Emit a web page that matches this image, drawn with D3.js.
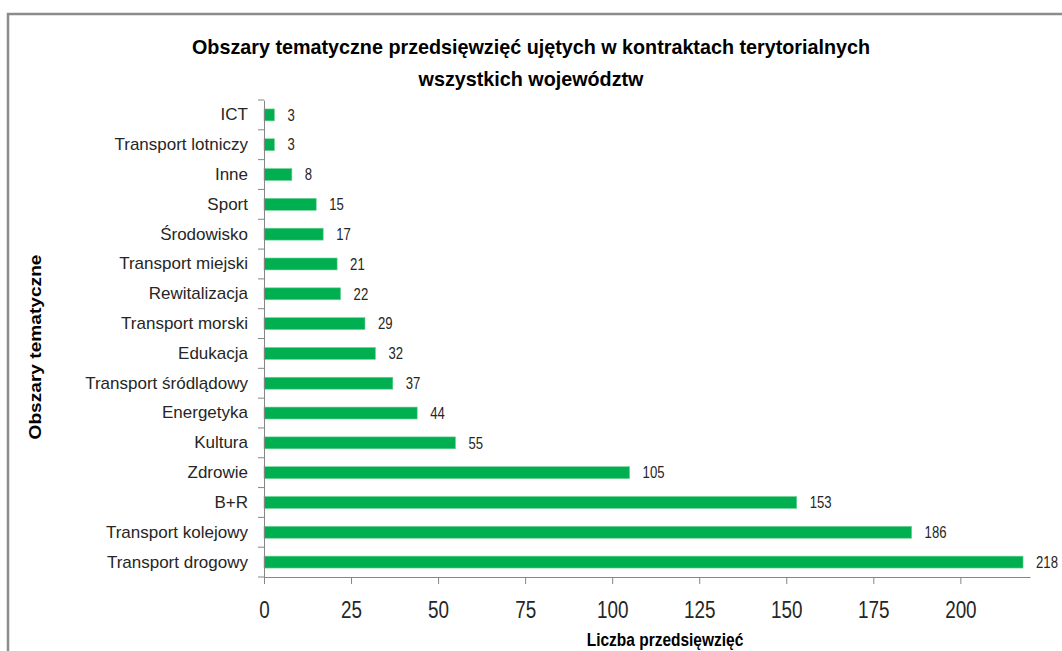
<!DOCTYPE html>
<html>
<head>
<meta charset="utf-8">
<script src="https://cdn.jsdelivr.net/npm/d3@7"></script>
<style>
  body { margin: 0; background: #fff; }
  svg { display: block; }
</style>
</head>
<body>
<script>
// dane z wykresu (od gory do dolu)
var categories = ["ICT", "Transport lotniczy", "Inne", "Sport", "Środowisko", "Transport miejski",
    "Rewitalizacja", "Transport morski", "Edukacja", "Transport śródlądowy", "Energetyka",
    "Kultura", "Zdrowie", "B+R", "Transport kolejowy", "Transport drogowy"];
var values = [3, 3, 8, 15, 17, 21, 22, 29, 32, 37, 44, 55, 105, 153, 186, 218];
var xTicks = [0, 25, 50, 75, 100, 125, 150, 175, 200];
var titleLines = ["Obszary tematyczne przedsięwzięć ujętych w kontraktach terytorialnych", "wszystkich województw"];
var xTitle = "Liczba przedsięwzięć";
var yTitle = "Obszary tematyczne";

var width = 1062, height = 651;
var sans = "'Liberation Sans', Arial, sans-serif";

var svg = d3.select("body").append("svg")
    .attr("width", width)
    .attr("height", height);

// zweza tekst (brak fontu "narrow" - sciskamy Liberation Sans)
function narrowText(sel, factor) {
    sel.each(function () {
        var len = this.getComputedTextLength();
        d3.select(this)
            .attr("textLength", len * factor)
            .attr("lengthAdjust", "spacingAndGlyphs");
    });
}

// ramka wykresu
svg.append("path")
    .attr("d", "M8,651 L8,14 L1062,14")
    .attr("fill", "none")
    .attr("stroke", "#8c8c8c")
    .attr("stroke-width", 2.5);

var data = categories.map(function (c, i) {
    return {name: c, value: values[i]};
});

var x = d3.scaleLinear()
    .domain([0, 220])
    .range([264, 1030]);

var y = d3.scaleBand()
    .domain(categories)
    .range([100, 577])
    .paddingInner(0.6)
    .paddingOuter(0.3);

// tytul
svg.append("g").selectAll("text")
    .data(titleLines)
    .enter()
    .append("text")
    .attr("x", 531)
    .attr("y", function (d, i) { return 54 + i * 32; })
    .attr("text-anchor", "middle")
    .style("font-family", sans)
    .style("font-weight", "bold")
    .style("font-size", "21px")
    .style("fill", "#000")
    .text(function (d) { return d; })
    .call(narrowText, 0.94);

// slupki
svg.append("g").selectAll("rect")
    .data(data)
    .enter()
    .append("rect")
    .attr("x", x(0))
    .attr("y", function (d) { return y(d.name); })
    .attr("width", function (d) { return x(d.value) - x(0); })
    .attr("height", y.bandwidth())
    .attr("fill", "#00b050")
    .attr("stroke", "#6fd195")
    .attr("stroke-width", 0.6);

// etykiety wartosci
svg.append("g").selectAll("text")
    .data(data)
    .enter()
    .append("text")
    .attr("x", function (d) { return x(d.value) + 13; })
    .attr("y", function (d) { return y(d.name) + y.bandwidth() / 2; })
    .attr("dy", "0.36em")
    .style("font-family", sans)
    .style("font-size", "16px")
    .style("fill", "#262626")
    .text(function (d) { return d.value; })
    .call(narrowText, 0.82);

// os Y - etykiety kategorii
var yAxisGroup = svg.append("g")
    .attr("transform", "translate(" + x(0) + ",0)")
    .call(d3.axisLeft(y).tickSize(0).tickPadding(16));
yAxisGroup.select(".domain").attr("stroke", "#868686");
yAxisGroup.selectAll("text")
    .style("font-family", sans)
    .style("font-size", "17px")
    .style("fill", "#262626");

// kreski miedzy kategoriami
var boundaries = d3.range(categories.length + 1).map(function (i) {
    return y.range()[0] + i * y.step();
});
svg.append("g").selectAll("line")
    .data(boundaries)
    .enter()
    .append("line")
    .attr("x1", x(0) - 6)
    .attr("x2", x(0))
    .attr("y1", function (d) { return d; })
    .attr("y2", function (d) { return d; })
    .attr("stroke", "#868686");

// os X
var xAxisGroup = svg.append("g")
    .attr("transform", "translate(0," + y.range()[1] + ")")
    .call(d3.axisBottom(x).tickValues(xTicks).tickSize(7).tickSizeOuter(0).tickPadding(18));
xAxisGroup.select(".domain").attr("stroke", "#868686");
xAxisGroup.selectAll(".tick line").attr("stroke", "#868686");
xAxisGroup.selectAll("text")
    .style("font-family", sans)
    .style("font-size", "23px")
    .style("fill", "#262626")
    .call(narrowText, 0.82);

// tytuly osi
svg.append("text")
    .attr("x", 665)
    .attr("y", 646)
    .attr("text-anchor", "middle")
    .style("font-family", sans)
    .style("font-weight", "bold")
    .style("font-size", "18px")
    .style("fill", "#000")
    .text(xTitle)
    .call(narrowText, 0.86);

svg.append("text")
    .attr("transform", "translate(41,347) rotate(-90)")
    .attr("text-anchor", "middle")
    .attr("textLength", 185)
    .attr("lengthAdjust", "spacingAndGlyphs")
    .style("font-family", sans)
    .style("font-weight", "bold")
    .style("font-size", "16px")
    .style("fill", "#000")
    .text(yTitle);
</script>
</body>
</html>
